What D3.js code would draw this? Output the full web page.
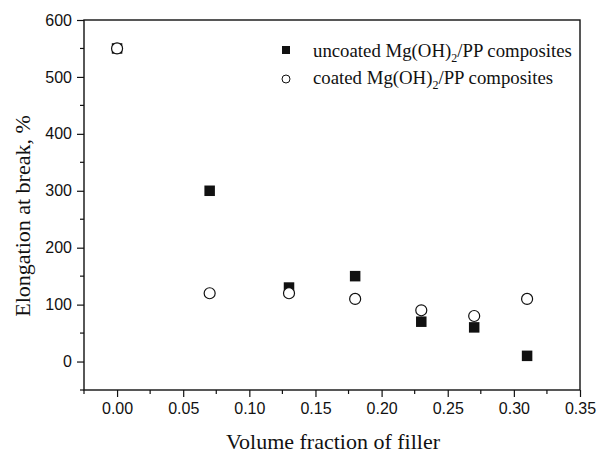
<!DOCTYPE html>
<html>
<head>
<meta charset="utf-8">
<script src="https://cdn.jsdelivr.net/npm/d3@7"></script>
<style>
  body { margin: 0; background: #fff; }
  .tick text { font-family: "Liberation Sans", Arial, sans-serif; font-size: 16px; fill: #111; }
  .title { font-family: "Liberation Serif", "Times New Roman", serif; font-size: 22px; fill: #111; }
  .legend { font-family: "Liberation Serif", "Times New Roman", serif; font-size: 18.8px; fill: #111; }
</style>
</head>
<body>
<div id="chart"></div>
<script>
var fraction = [0, 0.07, 0.13, 0.18, 0.23, 0.27, 0.31]
var uncoated = [550, 300, 130, 150, 70, 60, 10]
var coated = [550, 120, 120, 110, 90, 80, 110]
var xTicks = [0, 0.05, 0.10, 0.15, 0.20, 0.25, 0.30, 0.35]
var yTicks = [0, 100, 200, 300, 400, 500, 600]

var width = 603, height = 453
var margin = {left: 84, right: 23, top: 20, bottom: 63}

var svg = d3.select('#chart').append('svg')
  .attr('width', width).attr('height', height)

var x = d3.scaleLinear().domain([-0.025, 0.35]).range([margin.left, width - margin.right])
var y = d3.scaleLinear().domain([-50, 600]).range([height - margin.bottom, margin.top])

// frame
svg.append('rect')
  .attr('x', x.range()[0]).attr('y', y.range()[1])
  .attr('width', x.range()[1] - x.range()[0])
  .attr('height', y.range()[0] - y.range()[1])
  .attr('fill', 'none').attr('stroke', '#111').attr('stroke-width', 1.4)

// minor ticks
var xMinor = d3.range(-0.025, 0.351, 0.05)
var yMinor = d3.range(-50, 600, 100)

var xAxis = svg.append('g')
  .attr('transform', 'translate(0,' + y.range()[0] + ')')
  .call(d3.axisBottom(x).tickValues(xTicks).tickFormat(d3.format('.2f')).tickSize(7).tickPadding(6))
xAxis.select('.domain').remove()
xAxis.selectAll('line').attr('stroke', '#111').attr('stroke-width', 1.2)
xAxis.selectAll('.minor').data(xMinor).enter().append('line')
  .attr('x1', d => x(d)).attr('x2', d => x(d)).attr('y1', 0).attr('y2', 4)
  .attr('stroke', '#111').attr('stroke-width', 1.2)

var yAxis = svg.append('g')
  .attr('transform', 'translate(' + x.range()[0] + ',0)')
  .call(d3.axisLeft(y).tickValues(yTicks).tickSize(7).tickPadding(5))
yAxis.select('.domain').remove()
yAxis.selectAll('line').attr('stroke', '#111').attr('stroke-width', 1.2)
yAxis.selectAll('.minor').data(yMinor).enter().append('line')
  .attr('x1', 0).attr('x2', -4).attr('y1', d => y(d)).attr('y2', d => y(d))
  .attr('stroke', '#111').attr('stroke-width', 1.2)

// axis titles
svg.append('text').attr('class', 'title')
  .attr('x', 333).attr('y', 449)
  .attr('text-anchor', 'middle')
  .text('Volume fraction of filler')

svg.append('text').attr('class', 'title')
  .attr('transform', 'translate(30,216) rotate(-90)')
  .attr('text-anchor', 'middle')
  .text('Elongation at break, %')

// points
var sq = 10.5
svg.append('g').selectAll('rect').data(fraction).enter().append('rect')
  .attr('x', (d, i) => x(d) - sq / 2).attr('y', (d, i) => y(uncoated[i]) - sq / 2)
  .attr('width', sq).attr('height', sq).attr('fill', '#111')

svg.append('g').selectAll('circle').data(fraction).enter().append('circle')
  .attr('cx', d => x(d)).attr('cy', (d, i) => y(coated[i]))
  .attr('r', 5.5).attr('fill', '#fff').attr('stroke', '#111').attr('stroke-width', 1.2)

// legend
var leg = svg.append('g').attr('transform', 'translate(286,0)')
leg.append('rect').attr('x', -4).attr('y', 46).attr('width', 8).attr('height', 8).attr('fill', '#111')
leg.append('circle').attr('cx', 0).attr('cy', 79).attr('r', 4)
  .attr('fill', '#fff').attr('stroke', '#111').attr('stroke-width', 1)

function legendText(yPos, prefix) {
  var t = leg.append('text').attr('class', 'legend').attr('x', 27).attr('y', yPos)
  t.append('tspan').text(prefix + ' Mg(OH)')
  t.append('tspan').attr('dy', 5).attr('font-size', 12).text('2')
  t.append('tspan').attr('dy', -5).text('/PP composites')
}
legendText(57, 'uncoated')
legendText(83.5, 'coated')
</script>
</body>
</html>
